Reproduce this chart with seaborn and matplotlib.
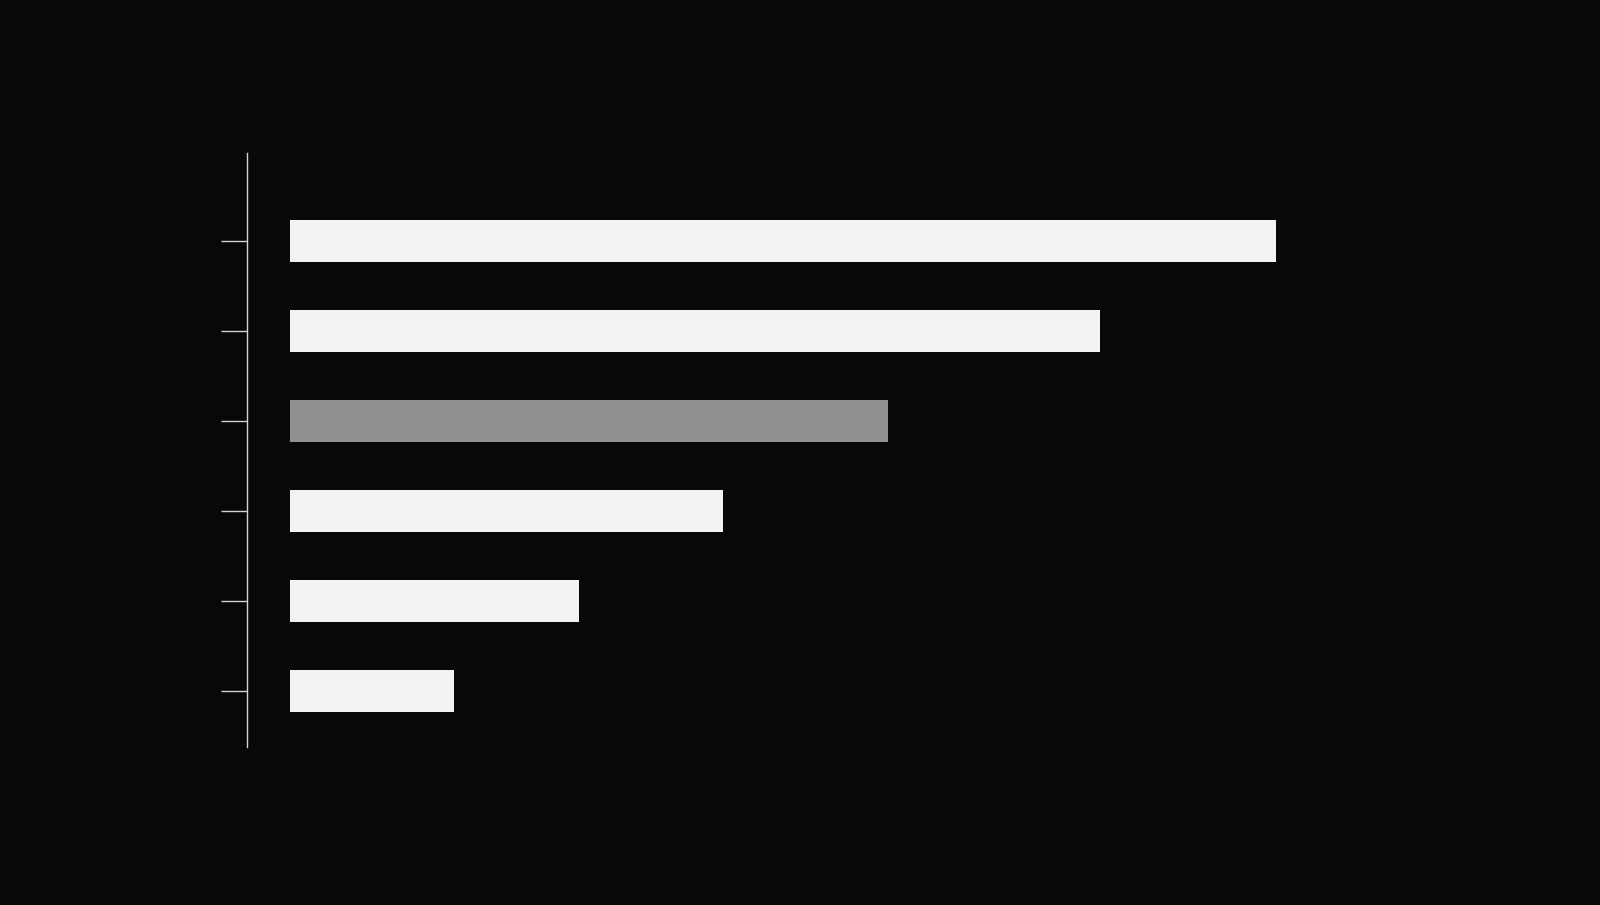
import matplotlib
matplotlib.use("Agg")
import matplotlib.pyplot as plt
import seaborn as sns
import pandas as pd

# Data (no labels are shown in the reference)
categories = ["A", "B", "C", "D", "E", "F"]
values = [100.0, 82.2, 60.6, 43.9, 29.3, 16.6]
highlight = "C"

BG = "#080808"
BAR = "#f2f2f2"
HI = "#8f8f8f"
AXC = "#d4d4d4"

sns.set_theme(style="white")
plt.rcParams["font.family"] = ["DejaVu Sans"]

df = pd.DataFrame({"category": categories, "value": values})
palette = {c: (HI if c == highlight else BAR) for c in categories}

fig = plt.figure(figsize=(16, 9.05), dpi=100, facecolor=BG)
W, H = 1600, 905
left_px, right_px, top_px, bottom_px = 247, 1400, 153, 747.3
ax = fig.add_axes([left_px / W, (H - bottom_px) / H,
                   (right_px - left_px) / W, (bottom_px - top_px) / H])
ax.set_facecolor(BG)

sns.barplot(data=df, x="value", y="category", hue="category", palette=palette,
            orient="h", width=0.47, saturation=1, legend=False, ax=ax,
            edgecolor="none", linewidth=0)

ax.set_xlim(-4.394, 112.6)
ax.set_ylim(5.629, -0.974)

for s in ["top", "right", "bottom"]:
    ax.spines[s].set_visible(False)
ax.spines["left"].set_color(AXC)
ax.spines["left"].set_linewidth(1.0)

ax.set_xticks([])
ax.set_yticks(range(len(categories)))
ax.set_yticklabels([""] * len(categories))
ax.tick_params(axis="y", length=18.4, width=1.0, color=AXC, direction="out", left=True)
ax.set_xlabel("")
ax.set_ylabel("")

fig.savefig("out.png", dpi=100, facecolor=BG)
